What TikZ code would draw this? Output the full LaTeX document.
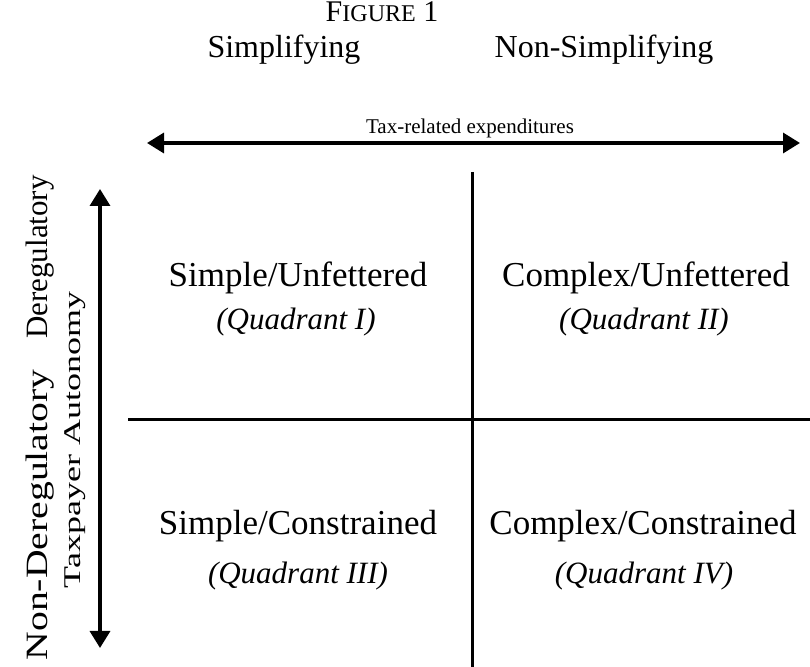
\documentclass[tikz,border=0pt]{standalone}
\usepackage{fontspec}
\setmainfont{Liberation Serif}
\usetikzlibrary{arrows.meta}
\usetikzlibrary{calc, positioning}

\tikzset{
  axis arrow/.style={line width=1.7pt, {Triangle[length=8.5pt, width=10pt]}-{Triangle[length=8.5pt, width=10pt]}},
  divider/.style={line width=1.5pt},
  head label/.style={font=\fontsize{16}{19}\selectfont, anchor=base},
  big label/.style={font=\fontsize{17.5}{21}\selectfont, anchor=base},
  side label/.style={font=\fontsize{15.5}{18}\selectfont, rotate=90},
  small label/.style={font=\fontsize{10.5}{12}\selectfont},
  quad label/.style={font=\fontsize{15.5}{18}\selectfont\itshape, anchor=base},
}

\begin{document}
\begin{tikzpicture}[x=0.5pt, y=-0.5pt]
  \useasboundingbox (0,0) rectangle (810,667);

  % title and column heads
  \node[head label, font=\fontsize{15}{18}\selectfont] (title) at (382,22) {F{\fontsize{12}{14}\selectfont IGURE} 1};
  \node[head label] (simp) at (284,58) {Simplifying};
  \node[head label] (nonsimp) at (604,58) {Non-Simplifying};

  % horizontal axis
  \coordinate (ax-left) at (147,143);
  \coordinate (ax-right) at (800,143);
  \draw[axis arrow] (ax-left) to (ax-right);
  \node[small label, anchor=base] (taxexp) at (470,134) {Tax-related expenditures};

  % vertical axis
  \coordinate (ay-top) at (100,189);
  \coordinate (ay-bot) at (100,648);
  \draw[axis arrow] (ay-top) to (ay-bot);
  \node[small label, font=\fontsize{12}{14}\selectfont, rotate=90, xscale=1.5] (autonomy) at (75,440) {Taxpayer Autonomy};

  % row heads
  \node[side label] (dereg) at (40,257) {Deregulatory};
  \node[side label, xscale=1.28] (nondereg) at (40,515) {Non-Deregulatory};

  % quadrant dividers
  \coordinate (div-top) at (472,172);
  \coordinate (div-bot) at (472,667);
  \coordinate (div-left) at (128,420);
  \coordinate (div-right) at (810,420);
  \draw[divider] (div-top) to (div-bot);
  \draw[divider] (div-left) to (div-right);

  % quadrants
  \node[big label] (q1) at (298,287) {Simple/Unfettered};
  \node[quad label] (q1-name) at (296,330) {(Quadrant I)};
  \node[big label] (q2) at (646,287) {Complex/Unfettered};
  \node[quad label] (q2-name) at (644,330) {(Quadrant II)};
  \node[big label] (q3) at (298,535) {Simple/Constrained};
  \node[quad label] (q3-name) at (298,584) {(Quadrant III)};
  \node[big label] (q4) at (643,535) {Complex/Constrained};
  \node[quad label] (q4-name) at (644,584) {(Quadrant IV)};

\end{tikzpicture}
\end{document}
